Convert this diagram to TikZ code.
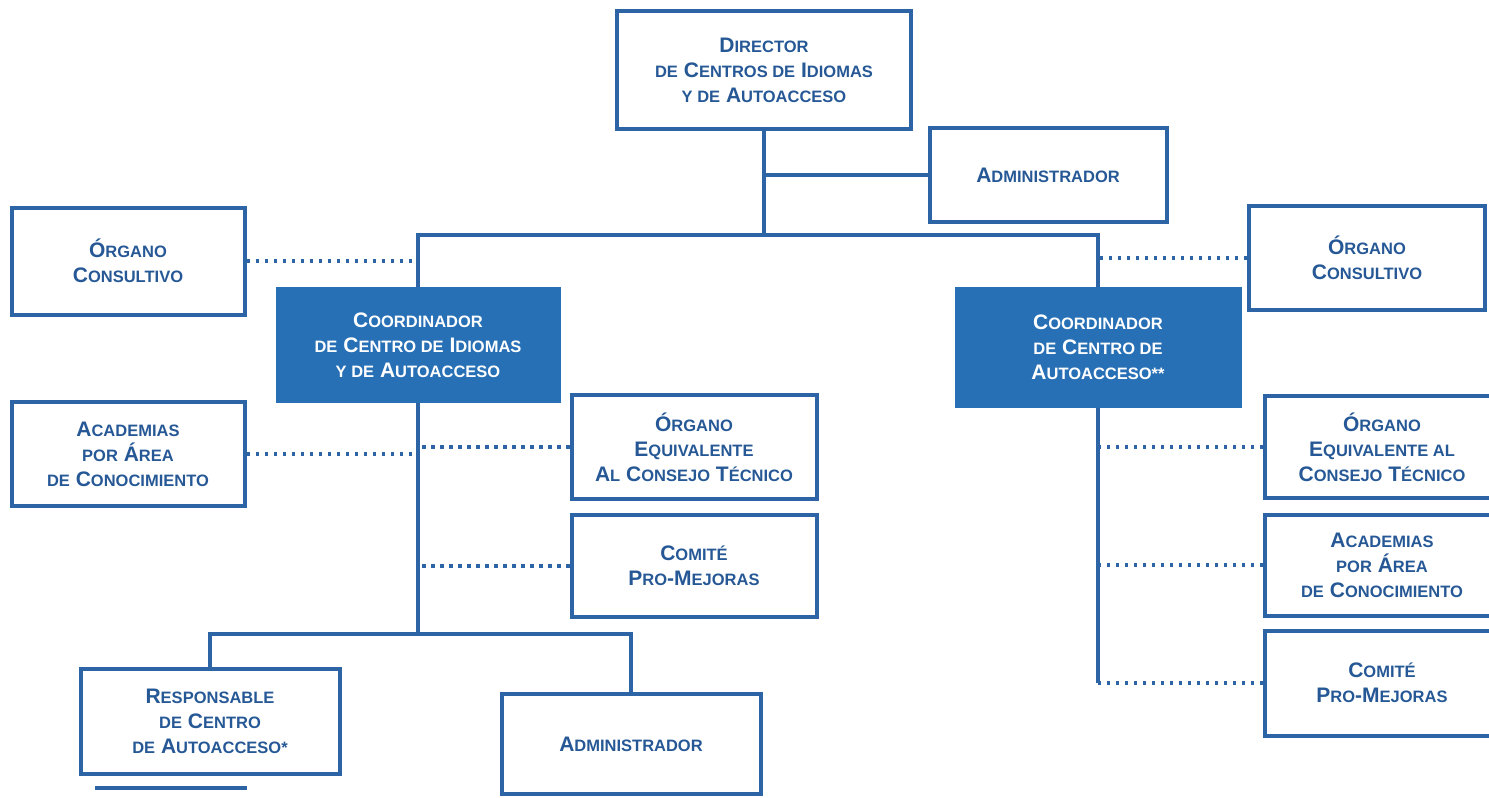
\documentclass[tikz,border=0pt]{standalone}
\usepackage{fontspec}
\setmainfont{Liberation Sans}
\usetikzlibrary{positioning}
\definecolor{orgline}{RGB}{45,100,165}
\definecolor{orgfill}{RGB}{40,112,182}
\definecolor{orgtext}{RGB}{38,88,150}
\NewDocumentCommand{\lowcap}{m}{{\fontsize{16.5}{25}\selectfont #1}}

\begin{document}
\begin{tikzpicture}[x=1pt, y=-1pt,
    box/.style = {draw=orgline, line width=4pt, rectangle, align=center,
                  text=orgtext, inner sep=0pt,
                  font=\bfseries\fontsize{21}{25}\selectfont},
    filledbox/.style = {box, fill=orgfill, draw=orgfill, text=white},
    link/.style = {draw=orgline, line width=3.5pt},
    dotlink/.style = {link, dash pattern=on 3.5pt off 5.5pt}]
    \useasboundingbox (0,0) rectangle (1489,798);

    % top level
    \node[box, minimum width=294, minimum height=118] (director) at (764,70)
        {D\lowcap{IRECTOR}\\ \lowcap{DE} C\lowcap{ENTROS DE} I\lowcap{DIOMAS}\\ \lowcap{Y DE} A\lowcap{UTOACCESO}};
    \node[box, minimum width=237, minimum height=94] (admintop) at (1048,175)
        {A\lowcap{DMINISTRADOR}};

    % left branch
    \node[box, minimum width=233, minimum height=107] (consultL) at (128,261)
        {Ó\lowcap{RGANO}\\ C\lowcap{ONSULTIVO}};
    \node[filledbox, minimum width=281, minimum height=112] (coordL) at (418,345)
        {C\lowcap{OORDINADOR}\\ \lowcap{DE} C\lowcap{ENTRO DE} I\lowcap{DIOMAS}\\ \lowcap{Y DE} A\lowcap{UTOACCESO}};
    \node[box, minimum width=233, minimum height=104] (academL) at (128,454)
        {A\lowcap{CADEMIAS}\\ \lowcap{POR} Á\lowcap{REA}\\ \lowcap{DE} C\lowcap{ONOCIMIENTO}};
    \node[box, minimum width=245, minimum height=104] (equivL) at (694,447)
        {Ó\lowcap{RGANO}\\ E\lowcap{QUIVALENTE}\\ A\lowcap{L} C\lowcap{ONSEJO} T\lowcap{ÉCNICO}};
    \node[box, minimum width=245, minimum height=102] (comiteL) at (694,566)
        {C\lowcap{OMITÉ}\\ P\lowcap{RO}-M\lowcap{EJORAS}};
    \node[box, minimum width=259, minimum height=105] (respons) at (210,721)
        {R\lowcap{ESPONSABLE}\\ \lowcap{DE} C\lowcap{ENTRO}\\ \lowcap{DE} A\lowcap{UTOACCESO*}};
    \node[box, minimum width=259, minimum height=100] (adminbot) at (631,744)
        {A\lowcap{DMINISTRADOR}};

    % right branch
    \node[box, minimum width=236, minimum height=104] (consultR) at (1367,258)
        {Ó\lowcap{RGANO}\\ C\lowcap{ONSULTIVO}};
    \node[filledbox, minimum width=283, minimum height=117] (coordR) at (1098,347)
        {C\lowcap{OORDINADOR}\\ \lowcap{DE} C\lowcap{ENTRO DE}\\ A\lowcap{UTOACCESO**}};
    \node[box, minimum width=234, minimum height=102] (equivR) at (1382,447)
        {Ó\lowcap{RGANO}\\ E\lowcap{QUIVALENTE AL}\\ C\lowcap{ONSEJO} T\lowcap{ÉCNICO}};
    \node[box, minimum width=234, minimum height=101] (academR) at (1382,565)
        {A\lowcap{CADEMIAS}\\ \lowcap{POR} Á\lowcap{REA}\\ \lowcap{DE} C\lowcap{ONOCIMIENTO}};
    \node[box, minimum width=234, minimum height=105] (comiteR) at (1382,683)
        {C\lowcap{OMITÉ}\\ P\lowcap{RO}-M\lowcap{EJORAS}};

    \coordinate (bustop) at (764,235);
    \coordinate (busbot) at (418,634);

    % solid lines
    \draw[link] (director) -- (bustop);
    \draw[link] (director.south |- admintop) -- (admintop);
    \draw[link] (coordL) |- (bustop) -| (coordR);
    \draw[link] (coordL) -- (busbot);
    \draw[link] (respons) |- (busbot) -| (adminbot);
    \draw[link] (coordR) -- (coordR |- comiteR);
    \draw[link] (95,788) -- (247,788);

    % dotted lines
    \draw[dotlink] (consultL) -- (consultL -| coordL);
    \draw[dotlink] (academL) -- (academL -| coordL);
    \draw[dotlink] (equivL) -- (equivL -| coordL);
    \draw[dotlink] (comiteL) -- (comiteL -| coordL);
    \draw[dotlink] (consultR) -- (consultR -| coordR);
    \draw[dotlink] (equivR) -- (equivR -| coordR);
    \draw[dotlink] (academR) -- (academR -| coordR);
    \draw[dotlink] (comiteR) -- (comiteR -| coordR);
\end{tikzpicture}
\end{document}
